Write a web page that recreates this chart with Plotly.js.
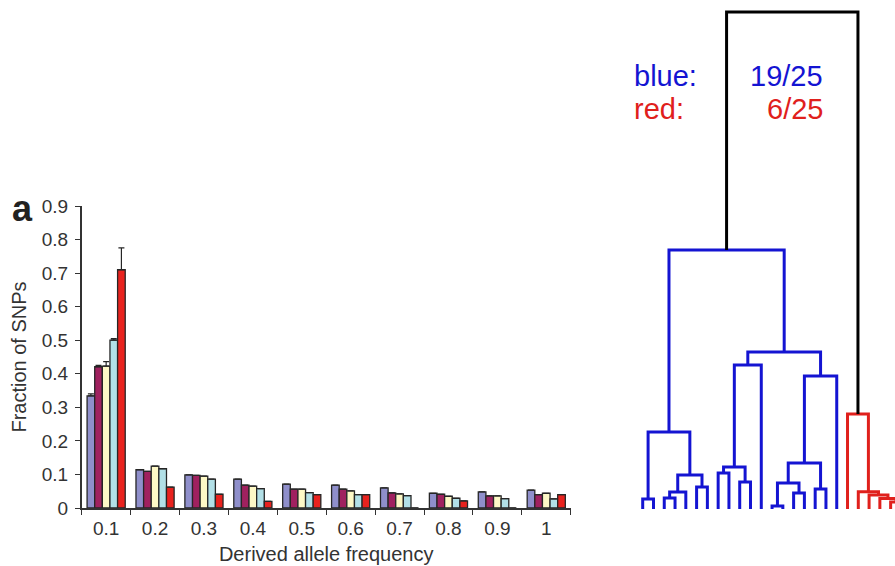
<!DOCTYPE html>
<html>
<head>
<meta charset="utf-8">
<script src="https://cdn.plot.ly/plotly-3.0.1.min.js"></script>
<style>
  html, body { margin: 0; padding: 0; background: #ffffff; }
  #chart { width: 895px; height: 566px; }
</style>
</head>
<body>
<div id="chart"></div>
<script>
// ---------- Panel a: grouped bars ----------
const categories = ['0.1', '0.2', '0.3', '0.4', '0.5', '0.6', '0.7', '0.8', '0.9', '1'];
const seriesNames = ['Population 1', 'Population 2', 'Population 3', 'Population 4', 'Population 5'];
const pop1 = [0.334, 0.114, 0.099, 0.086, 0.071, 0.068, 0.060, 0.044, 0.048, 0.053];
const pop2 = [0.421, 0.109, 0.097, 0.068, 0.056, 0.056, 0.045, 0.041, 0.036, 0.040];
const pop3 = [0.423, 0.125, 0.095, 0.065, 0.056, 0.051, 0.042, 0.035, 0.036, 0.044];
const pop4 = [0.500, 0.117, 0.086, 0.058, 0.046, 0.040, 0.037, 0.029, 0.028, 0.027];
const pop5 = [0.710, 0.062, 0.041, 0.020, 0.040, 0.040, 0.000, 0.021, 0.000, 0.040];
// upper error bars (only the 0.1 class carries them)
const err1 = [0.006, null, null, null, null, null, null, null, null, null];
const err2 = [0.004, null, null, null, null, null, null, null, null, null];
const err3 = [0.013, null, null, null, null, null, null, null, null, null];
const err4 = [0.005, null, null, null, null, null, null, null, null, null];
const err5 = [0.065, null, null, null, null, null, null, null, null, null];
const errLow = [0, null, null, null, null, null, null, null, null, null];

// ---------- Panel b: dendrogram ----------
// leaf groups in plotted order (0..24)
const leafGroups = ['blue','blue','blue','blue','blue','blue','blue','blue','blue','blue',
                    'blue','blue','blue','blue','blue','blue','blue','blue','blue',
                    'red','red','red','red','red','red'];
// merges: node id = 25 + merge index
const mergeLeft   = [0, 2, 26, 5, 27, 25, 7, 9, 31, 33, 12, 14, 35, 16, 37, 39, 34, 30, 23, 22, 21, 20, 19, 42];
const mergeRight  = [1, 3,  4, 6, 28, 29, 8, 10, 32, 11, 13, 15, 36, 17, 38, 18, 40, 41, 24, 43, 44, 45, 46, 47];
const mergeHeight = [10, 11, 17, 22, 34, 77, 36, 27, 42, 144, 3, 16, 26, 20, 46, 133, 157, 259, 7, 10.5, 14, 17.3, 95, 497];

const barColors = ['#8f8fcb', '#a0215f', '#fdf8c6', '#b2e0e7', '#e8221e'];
const groupColors = { blue: '#1414d2', red: '#e0201c', mixed: '#000000' };

const pops = [pop1, pop2, pop3, pop4, pop5];
const errs = [err1, err2, err3, err4, err5];

const W = 895, H = 566;
const traces = pops.map((vals, i) => ({
  type: 'bar',
  name: seriesNames[i],
  x: categories,
  y: vals,
  xaxis: 'x', yaxis: 'y',
  marker: { color: barColors[i], line: { color: '#262626', width: 1.3 } },
  error_y: { type: 'data', array: errs[i], arrayminus: errLow, symmetric: false, visible: true,
             color: '#262626', thickness: 1.2, width: 3 },
  showlegend: false,
  hoverinfo: 'x+y+name'
}));

// Build dendrogram geometry from the merge table
const nLeaves = leafGroups.length;
const nodeX = [], nodeH = [], nodeGroup = [];
for (let i = 0; i < nLeaves; i++) { nodeX[i] = i; nodeH[i] = 0; nodeGroup[i] = leafGroups[i]; }
const segs = { blue: {x: [], y: []}, red: {x: [], y: []}, mixed: {x: [], y: []} };
mergeLeft.forEach((l, k) => {
  const r = mergeRight[k], h = mergeHeight[k], id = nLeaves + k;
  nodeX[id] = (nodeX[l] + nodeX[r]) / 2;
  nodeH[id] = h;
  nodeGroup[id] = nodeGroup[l] === nodeGroup[r] ? nodeGroup[l] : 'mixed';
  const s = segs[nodeGroup[id]];
  s.x.push(nodeX[l], nodeX[l], nodeX[r], nodeX[r], null);
  s.y.push(nodeH[l], h, h, nodeH[r], null);
});
['blue', 'red', 'mixed'].forEach(g => {
  traces.push({
    type: 'scatter', mode: 'lines',
    x: segs[g].x, y: segs[g].y,
    xaxis: 'x2', yaxis: 'y2',
    line: { color: groupColors[g], width: 3 },
    hoverinfo: 'skip', showlegend: false
  });
});

const nBlue = leafGroups.filter(g => g === 'blue').length;
const nRed = leafGroups.filter(g => g === 'red').length;

const font = 'Liberation Sans, Arial, Helvetica, sans-serif';
const px = v => v / W;
const py = v => (H - v) / H;

const layout = {
  width: W, height: H,
  margin: { l: 0, r: 0, t: 0, b: 0 },
  paper_bgcolor: '#ffffff', plot_bgcolor: 'rgba(0,0,0,0)',
  font: { family: font, color: '#333333' },
  barmode: 'group', bargap: 0.22, bargroupgap: 0,
  xaxis: {
    domain: [px(81.7), px(570.7)], type: 'category',
    tickson: 'boundaries', ticks: 'outside', ticklen: 5, tickwidth: 1.3, tickcolor: '#333',
    showline: true, linecolor: '#333', linewidth: 1.5, showgrid: false,
    tickfont: { size: 19, color: '#333' }, ticklabelstandoff: 2,
    title: { text: 'Derived allele frequency', font: { size: 20, color: '#333' }, standoff: 9 },
    fixedrange: true
  },
  yaxis: {
    domain: [py(508), py(206)], range: [0, 0.9], dtick: 0.1,
    ticks: 'outside', ticklen: 5, tickwidth: 1.3, tickcolor: '#333',
    showline: true, linecolor: '#333', linewidth: 1.5, showgrid: false, zeroline: false,
    tickfont: { size: 19, color: '#333' }, ticklabelstandoff: 3,
    title: { text: 'Fraction of SNPs', font: { size: 20, color: '#333' }, standoff: 10 },
    fixedrange: true
  },
  xaxis2: {
    domain: [0.70, 1], range: [(626.5 - 642.7) / 10.78, (895 - 642.7) / 10.78],
    visible: false, fixedrange: true
  },
  yaxis2: {
    domain: [0, 1], range: [-57, 509], visible: false, fixedrange: true
  },
  annotations: [
    { text: '<b>a</b>', xref: 'paper', yref: 'paper', x: px(10), y: py(209), xanchor: 'left', yanchor: 'middle',
      showarrow: false, font: { family: font, size: 36, color: '#222' } },
    { text: 'blue:', xref: 'paper', yref: 'paper', x: px(632), y: py(76), xanchor: 'left', yanchor: 'middle',
      showarrow: false, font: { family: font, size: 29, color: groupColors.blue } },
    { text: nBlue + '/' + nLeaves, xref: 'paper', yref: 'paper', x: px(825), y: py(76), xanchor: 'right', yanchor: 'middle',
      showarrow: false, font: { family: font, size: 29, color: groupColors.blue } },
    { text: 'red:', xref: 'paper', yref: 'paper', x: px(632), y: py(109), xanchor: 'left', yanchor: 'middle',
      showarrow: false, font: { family: font, size: 29, color: groupColors.red } },
    { text: nRed + '/' + nLeaves, xref: 'paper', yref: 'paper', x: px(825), y: py(109), xanchor: 'right', yanchor: 'middle',
      showarrow: false, font: { family: font, size: 29, color: groupColors.red } }
  ]
};

Plotly.newPlot('chart', traces, layout, { displayModeBar: false, staticPlot: false });
</script>
</body>
</html>
